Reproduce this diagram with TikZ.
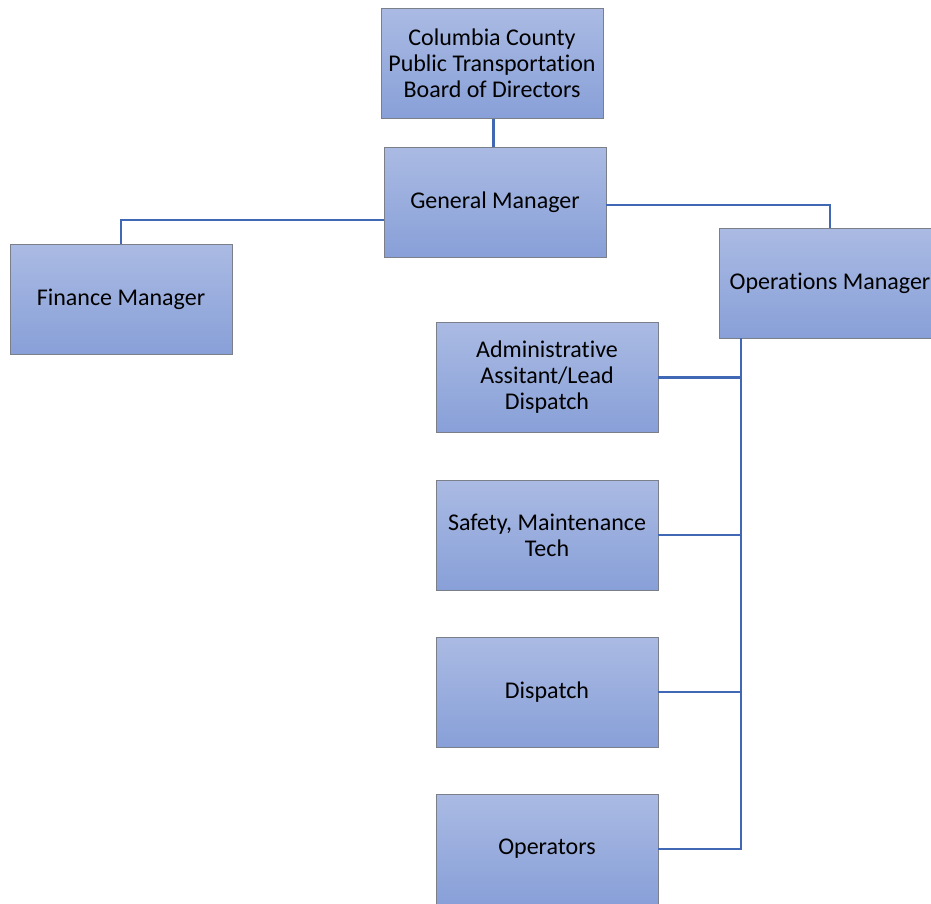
\documentclass[tikz,border=0pt]{standalone}
\usepackage{fontspec}
\setmainfont[RawFeature={-liga;-clig;-dlig}]{Carlito}
\definecolor{boxtop}{HTML}{AABAE3}
\definecolor{boxbot}{HTML}{88A0D8}
\definecolor{boxline}{HTML}{7A7F8A}
\definecolor{link}{HTML}{4068B4}
\begin{document}
\begin{tikzpicture}[x=1pt,y=-1pt,
  orgbox/.style={draw=boxline, line width=0.8pt, top color=boxtop, bottom color=boxbot,
    minimum width=222pt, minimum height=110pt, inner sep=2pt, align=center,
    font=\fontsize{24}{26}\selectfont, text=black},
  conn/.style={draw=link, line width=2.2pt}]
\useasboundingbox (0,0) rectangle (931,903);
\begin{scope}
\clip (0,0) rectangle (931,903);
\node[orgbox] (board) at (492,63.5) {Columbia County\\Public Transportation\\Board of Directors};
\node[orgbox] (gm) at (495,202) {General Manager};
\node[orgbox] (fin) at (121,299) {Finance Manager};
\node[orgbox] (ops) at (830,283) {Operations Manager};
\node[orgbox] (admin) at (547,377.5) {Administrative\\Assitant/Lead\\Dispatch};
\node[orgbox] (safety) at (547,535) {Safety, Maintenance\\Tech};
\node[orgbox] (disp) at (547,692) {Dispatch};
\node[orgbox] (oper) at (547,849) {Operators};
\coordinate (spine) at (741,0);
\coordinate (stem) at (493,0);
\draw[conn, line width=3pt] (stem |- board.south) -- (stem |- gm.north);
\draw[conn] (gm.west |- 0,220) -| (fin.north);
\draw[conn] (gm.east |- 0,205) -| (ops.north);
\draw[conn] (spine |- ops.south) -- (spine |- oper.east) -- (oper.east);
\draw[conn] (admin.east) -- (spine |- admin.east);
\draw[conn] (safety.east) -- (spine |- safety.east);
\draw[conn] (disp.east) -- (spine |- disp.east);
\end{scope}
\end{tikzpicture}
\end{document}
